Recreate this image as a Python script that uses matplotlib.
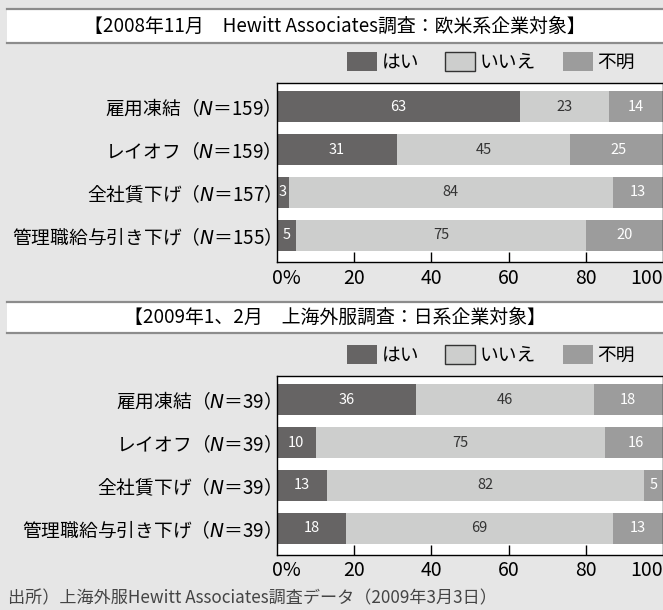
import matplotlib
matplotlib.use("Agg")
import matplotlib.pyplot as plt
from matplotlib.patches import Rectangle, Patch
from matplotlib.lines import Line2D

plt.rcParams['font.family'] = ['Noto Sans CJK JP', 'DejaVu Sans']
plt.rcParams['mathtext.fontset'] = 'dejavusans'

# data
titles = ['【2008年11月　Hewitt Associates調査：欧米系企業対象】',
          '【2009年1、2月　上海外服調査：日系企業対象】']
items = ['雇用凍結', 'レイオフ', '全社賃下げ', '管理職給与引き下げ']
n_2008 = [159, 159, 157, 155]
n_2009 = [39, 39, 39, 39]
series_names = ['はい', 'いいえ', '不明']
yes_2008 = [63, 31, 3, 5]
no_2008 = [23, 45, 84, 75]
unk_2008 = [14, 25, 13, 20]
yes_2009 = [36, 10, 13, 18]
no_2009 = [46, 75, 82, 69]
unk_2009 = [18, 16, 5, 13]
xticks = [0, 20, 40, 60, 80, 100]
source = '出所）上海外服Hewitt Associates調査データ（2009年3月3日）'

colors = ['#666464', '#cdcecd', '#9c9c9c']
text_colors = ['white', '#333333', 'white']
bg = '#e6e6e6'

W, H = 663, 610
fig = plt.figure(figsize=(W / 100, H / 100), dpi=100, facecolor=bg)


def band(y_top, y_bot, title):
    # white title strip with grey rules
    x0 = 7 / W
    fig.add_artist(Rectangle((x0, 1 - y_bot / H), 1 - x0, (y_bot - y_top) / H,
                             transform=fig.transFigure, facecolor='white',
                             edgecolor='none'))
    for yy in (y_top, y_bot):
        fig.add_artist(Line2D([x0, 1], [1 - yy / H, 1 - yy / H],
                              transform=fig.transFigure, color='#8c8c8c', lw=1.6))
    fig.text((x0 + 1) / 2, 1 - (y_top + y_bot) / 2 / H, title, ha='center',
             va='center', fontsize=13.6, color='black')


def panel(ax_top, ax_bot, legend_y, yes, no, unk, ns):
    ax = fig.add_axes([277 / W, 1 - ax_bot / H, 386 / W, (ax_bot - ax_top) / H])
    ax.set_facecolor('white')
    ypos = list(range(len(items)))
    segs = [yes, no, unk]
    left = [0] * len(items)
    for k, vals in enumerate(segs):
        ax.barh(ypos, vals, left=left, height=0.72, color=colors[k], edgecolor='none')
        for i, v in enumerate(vals):
            ax.text(left[i] + v / 2, ypos[i], str(v), ha='center', va='center',
                    fontsize=10.5, color=text_colors[k])
        left = [a + b for a, b in zip(left, vals)]
    ax.set_xlim(0, 100)
    ax.set_ylim(3.62, -0.55)
    ax.set_yticks(ypos)
    ax.set_yticklabels([f'{it}（$\\mathit{{N}}$＝{n}）' for it, n in zip(items, ns)],
                       fontsize=13.5)
    ax.tick_params(axis='y', length=0, pad=4.5)
    ax.set_xticks([20, 40, 60, 80])
    ax.tick_params(axis='x', direction='in', length=7, width=1, labelbottom=False)
    for s in ax.spines.values():
        s.set_color('black')
        s.set_linewidth(1)
    # x tick labels
    for v in xticks:
        ha = 'center'
        dx = 0
        lab = str(v)
        if v == 0:
            lab = '0%'
            ha = 'left'
            dx = -5
        if v == 100:
            ha = 'right'
        ax.annotate(lab, xy=(v, 0), xycoords=('data', 'axes fraction'),
                    xytext=(dx, -16), textcoords='offset pixels', ha=ha,
                    va='center', fontsize=14, color='black', annotation_clip=False)
    handles = [Patch(facecolor=colors[0], edgecolor='none'),
               Patch(facecolor=colors[1], edgecolor='#333333', linewidth=1),
               Patch(facecolor=colors[2], edgecolor='none')]
    fig.legend(handles, series_names, loc='center left',
               bbox_to_anchor=(347 / W, 1 - legend_y / H),
               bbox_transform=fig.transFigure, ncol=3, frameon=False,
               fontsize=13.5, handlelength=1.6, handleheight=1.17,
               handletextpad=0.25, columnspacing=1.4, borderpad=0,
               borderaxespad=0)
    return ax


band(9, 43, titles[0])
panel(83, 262, 62, yes_2008, no_2008, unk_2008, n_2008)
band(302, 333, titles[1])
panel(376, 555, 355, yes_2009, no_2009, unk_2009, n_2009)

fig.text(8 / W, 1 - 598 / H, source, ha='left', va='center', fontsize=12.3,
         color='#444444')

fig.savefig('out.png', dpi=100, facecolor=bg)
